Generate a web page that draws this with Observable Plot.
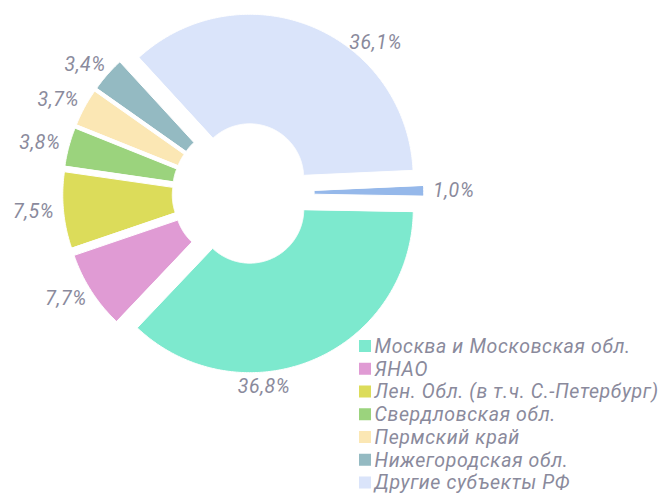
<!DOCTYPE html>
<html><head><meta charset="utf-8">
<script src="https://cdn.jsdelivr.net/npm/d3@7"></script>
<script src="https://cdn.jsdelivr.net/npm/@observablehq/plot@0.6"></script>
<style>body{margin:0;background:#fff;} #chart svg{display:block;} #chart svg text{letter-spacing:0.65px;}</style>
</head><body><div id="chart"></div>
<script>
// ---- data ----
const categories = ["Москва и Московская обл.","ЯНАО","Лен. Обл. (в т.ч. С.-Петербург)","Свердловская обл.","Пермский край","Нижегородская обл.","Другие субъекты РФ","Прочие субъекты"];
const shares = [36.8, 7.7, 7.5, 3.8, 3.7, 3.4, 36.1, 1.0];
const colors = ["#7de9ce","#e09bd4","#dcdc5a","#9bd37d","#fbe7b4","#94bac2","#dae4fa","#95b8ea"];
const legendCategories = categories.slice(0, 7);

// ---- layout ----
const W = 664, H = 495;
const cx = 242.7, cy = 193, R = 163.5, r0 = 54, explode = 17;
const rotation = 91 * Math.PI / 180;   // first slice starts a little past 3 o'clock
const textColor = "#8a8a9c";
const font = "Roboto, 'Open Sans', sans-serif";
const fontSize = 19.5;
const bigLabelFrac = 0.64;   // position of label along large slices
const lblHalfW = 24, lblHalfH = 9, lblGap = 6;

const pie = d3.pie().sort(null).startAngle(rotation).endAngle(rotation + 2 * Math.PI)(shares);

const polys = [];
const labels = [];
pie.forEach((p, i) => {
  const mid = (p.startAngle + p.endAngle) / 2;
  const ox = explode * Math.sin(mid), oy = -explode * Math.cos(mid);
  const span = p.endAngle - p.startAngle;
  const n = Math.max(2, Math.ceil(span / 0.01));
  const pts = [];
  for (let k = 0; k <= n; k++) {
    const a = p.startAngle + span * k / n;
    pts.push([cx + ox + R * Math.sin(a), cy + oy - R * Math.cos(a)]);
  }
  for (let k = n; k >= 0; k--) {
    const a = p.startAngle + span * k / n;
    pts.push([cx + ox + r0 * Math.sin(a), cy + oy - r0 * Math.cos(a)]);
  }
  pts.forEach(([x, y], j) => polys.push({category: categories[i], x, y, j}));
  const la = span > Math.PI / 2 ? p.startAngle + span * bigLabelFrac : mid;
  const s = Math.sin(la), c = Math.cos(la);
  labels.push({
    x: cx + ox + (R + lblGap + lblHalfW) * s,
    y: cy + oy - (R + lblGap + lblHalfH) * c,
    text: d3.format(".1f")(shares[i]).replace(".", ",") + "%"
  });
});

const legX = 359, legY0 = 346, legStep = 22.75, legBox = 12;
const legend = legendCategories.map((c, i) => ({
  category: c,
  x1: legX, x2: legX + legBox,
  y1: legY0 + i * legStep - legBox / 2, y2: legY0 + i * legStep + legBox / 2,
  tx: legX + legBox + 3, ty: legY0 + i * legStep
}));

const chart = Plot.plot({
  width: W, height: H,
  margin: 0,
  x: {domain: [0, W], range: [0, W], axis: null},
  y: {domain: [0, H], range: [0, H], axis: null},
  color: {domain: categories, range: colors},
  style: {fontFamily: font, background: "#fff"},
  marks: [
    Plot.line(polys, {x: "x", y: "y", z: "category", fill: "category", stroke: "#fff", strokeWidth: 1, curve: "linear-closed"}),
    Plot.text(labels, {x: "x", y: "y", text: "text", fill: textColor, fontSize, fontStyle: "italic", textAnchor: "middle", lineAnchor: "middle"}),
    Plot.rect(legend, {x1: "x1", x2: "x2", y1: "y1", y2: "y2", fill: "category"}),
    Plot.text(legend, {x: "tx", y: "ty", text: "category", fill: textColor, fontSize, fontStyle: "italic", textAnchor: "start", lineAnchor: "middle"})
  ]
});
document.getElementById("chart").appendChild(chart);
</script>
</body></html>
